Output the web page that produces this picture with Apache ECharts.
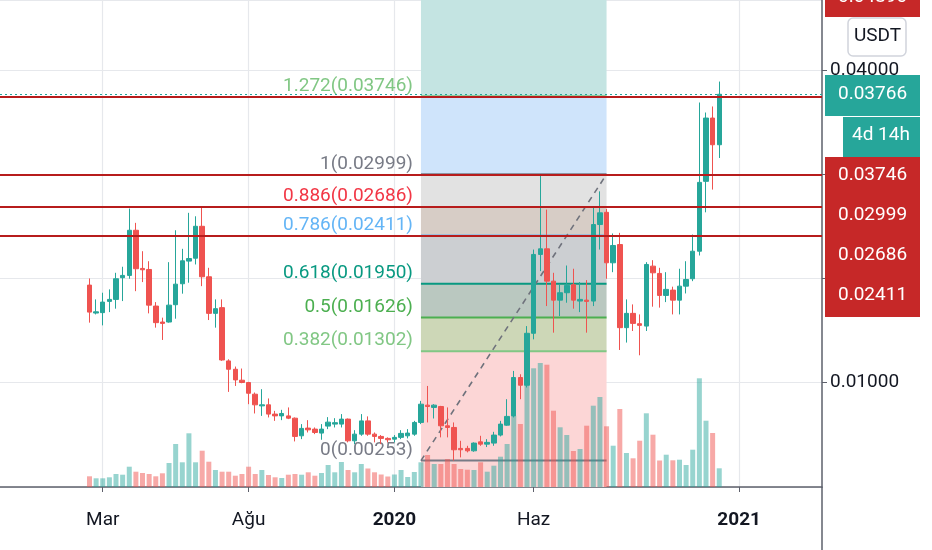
<!DOCTYPE html>
<html><head><meta charset="utf-8">
<script src="https://cdn.jsdelivr.net/npm/echarts@6/dist/echarts.min.js"></script>
<style>html,body{margin:0;padding:0;background:#fff}#c{width:932px;height:550px}</style>
</head><body><div id="c"></div>
<script>
// ---- data ----
const axisStartDate = '2018-11-19';   // first (empty) weekly slot on the time axis
const axisWeeks = 124;                 // number of weekly slots shown
const firstCandleDate = '2019-02-18';
// weekly candles [open, close, low, high]
const ohlc = [
[0.01936,0.01677,0.01576,0.02000],[0.01668,0.01680,0.01655,0.01799],[0.01672,0.01773,0.01550,0.01863],
[0.01780,0.01799,0.01677,0.01895],[0.01799,0.01997,0.01710,0.02054],[0.02007,0.02029,0.01783,0.02112],
[0.02029,0.02462,0.01997,0.02670],[0.02462,0.02093,0.01878,0.02533],[0.02096,0.02083,0.01965,0.02261],
[0.02086,0.01744,0.01665,0.02165],[0.01735,0.01576,0.01528,0.01773],[0.01582,0.01569,0.01410,0.01624],
[0.01582,0.01744,0.01576,0.02156],[0.01748,0.01945,0.01614,0.02462],[0.01949,0.02169,0.01854,0.02284],
[0.02166,0.02191,0.01959,0.02629],[0.02194,0.02500,0.02134,0.02596],[0.02500,0.02016,0.01926,0.02692],
[0.02016,0.01665,0.01601,0.02102],[0.01665,0.01710,0.01528,0.01799],[0.01720,0.01218,0.01210,0.01799],
[0.01209,0.01129,0.00912,0.01225],[0.01129,0.01027,0.00969,0.01155],[0.01024,0.01002,0.00995,0.01136],
[0.01002,0.00899,0.00794,0.01008],[0.00890,0.00788,0.00705,0.00906],[0.00778,0.00788,0.00682,0.00938],
[0.00788,0.00699,0.00667,0.00849],[0.00699,0.00682,0.00634,0.00730],[0.00682,0.00705,0.00641,0.00740],
[0.00682,0.00660,0.00651,0.00763],[0.00660,0.00485,0.00437,0.00667],[0.00491,0.00562,0.00459,0.00603],
[0.00565,0.00548,0.00523,0.00641],[0.00555,0.00523,0.00507,0.00571],[0.00517,0.00555,0.00453,0.00603],
[0.00584,0.00622,0.00555,0.00670],[0.00603,0.00617,0.00571,0.00660],[0.00603,0.00651,0.00571,0.00699],
[0.00651,0.00443,0.00428,0.00657],[0.00443,0.00507,0.00411,0.00545],[0.00507,0.00634,0.00491,0.00699],
[0.00634,0.00507,0.00491,0.00677],[0.00507,0.00485,0.00428,0.00523],[0.00485,0.00466,0.00411,0.00498],
[0.00466,0.00453,0.00428,0.00476],[0.00459,0.00476,0.00428,0.00498],[0.00476,0.00514,0.00459,0.00545],
[0.00491,0.00517,0.00466,0.00555],[0.00507,0.00619,0.00491,0.00634],[0.00619,0.00794,0.00603,0.00826],
[0.00785,0.00772,0.00619,0.00969],[0.00763,0.00785,0.00657,0.00794],[0.00772,0.00587,0.00476,0.00778],
[0.00587,0.00571,0.00476,0.00763],[0.00571,0.00357,0.00253,0.00619],[0.00370,0.00357,0.00284,0.00443],
[0.00370,0.00347,0.00332,0.00395],[0.00347,0.00421,0.00338,0.00428],[0.00433,0.00411,0.00395,0.00491],
[0.00411,0.00428,0.00383,0.00459],[0.00421,0.00498,0.00395,0.00529],[0.00498,0.00603,0.00485,0.00634],
[0.00593,0.00677,0.00587,0.00842],[0.00682,0.01050,0.00667,0.01113],[0.01050,0.00976,0.00842,0.01081],
[0.00976,0.01474,0.00954,0.01543],[0.01474,0.02230,0.01416,0.02277],[0.02230,0.02284,0.02070,0.02999],
[0.02284,0.01974,0.01735,0.02660],[0.01974,0.01792,0.01480,0.02054],[0.01792,0.01863,0.01639,0.01943],
[0.01863,0.01933,0.01767,0.02124],[0.01940,0.01792,0.01710,0.02093],[0.01783,0.01799,0.01677,0.01965],
[0.01792,0.01780,0.01480,0.01984],[0.01783,0.02517,0.01735,0.02676],[0.02517,0.02629,0.02277,0.02835],
[0.02634,0.02150,0.01997,0.02667],[0.02150,0.02316,0.02060,0.02431],[0.02325,0.01528,0.01314,0.02437],
[0.01528,0.01665,0.01385,0.01799],[0.01665,0.01569,0.01496,0.01751],[0.01566,0.01550,0.01263,0.01655],
[0.01543,0.02134,0.01496,0.02156],[0.02118,0.02054,0.01729,0.02175],[0.02048,0.01837,0.01720,0.02102],
[0.01837,0.01895,0.01773,0.02060],[0.01888,0.01792,0.01655,0.01921],[0.01792,0.01926,0.01655,0.02093],
[0.01926,0.01990,0.01856,0.02165],[0.01997,0.02261,0.01974,0.02421],[0.02261,0.02921,0.02220,0.03687],
[0.02931,0.03538,0.02634,0.03591],[0.03538,0.03282,0.02852,0.03649],[0.03282,0.03766,0.03155,0.03888]
];
// weekly volume (relative units)
const volumes = [
10.7,8.7,8.7,9.7,13,12.3,20.3,15.3,14,13,10.7,13.7,24,43,24.7,53.7,24.7,36.3,25.3,17,
15.3,15.3,11.3,13,20.3,13,17,12,9.7,9,12.3,13,12.3,14.7,11.3,14,22,14.7,25,17,
14.7,23,18.5,14.7,12.5,10.5,12.5,17,10,15,24.7,32,23,23,28,23,18,17.3,17,24.7,
15.3,21.3,30.3,43,71.3,63,108.7,118.7,124,122.3,76.3,59.7,52,36,38,61.3,81.3,90,60.7,41.3,
78,34,28.7,46.3,73.7,52.3,26.5,32.3,26.7,27.3,22,37.3,108.7,66.3,54,18.7
];
const tickLabels = [['2019-03-04','Mar',false],['2019-08-05','Ağu',false],['2020-01-06','2020',true],['2020-06-01','Haz',false],['2021-01-04','2021',true]];
const levelPrices = [0.03746, 0.02999, 0.02686, 0.02411];
const lastPrice = 0.03766;
const timeLeft = '4d 14h';
const topLabelPrice = 0.04890;
const fibStartDate = '2020-02-03', fibEndDate = '2020-08-17';
const fibRatios = [0, 0.382, 0.5, 0.618, 0.786, 0.886, 1, 1.272, 1.618];
const fibPrices = [0.00253, 0.01302, 0.01626, 0.01950, 0.02411, 0.02686, 0.02999, 0.03746, 0.04696];
const fibLineColors = ['#787b86','#81c784','#4caf50','#089981','#64b5f6','#f23645','#787b86','#81c784',null];
const fibBandColors = ['#fcd6d6','#cdd7b7','#bac8c0','#cccfd2','#d7cdc6','#e2e2e2','#cfe4fb','#c4e4e2'];
const fibBelowColor = '#fcd6d6';

// ---- build ----
const categories = [];
{
  const t0 = Date.parse(axisStartDate + 'T00:00:00Z');
  for (let k = 0; k < axisWeeks; k++) categories.push(new Date(t0 + k * 7 * 86400000).toISOString().slice(0, 10));
}
const first = categories.indexOf(firstCandleDate);
const labelMap = {}; tickLabels.forEach(t => labelMap[t[0]] = t);
const isTick = (i, v) => !!labelMap[categories[i]];
const candleData = ohlc.map((d, i) => [first + i, d[0], d[1], d[2], d[3]]);
const volData = volumes.map((v, i) => ({
  value: [first + i, v],
  itemStyle: { color: ohlc[i][1] >= ohlc[i][0] ? 'rgba(38,166,154,0.48)' : 'rgba(239,83,80,0.5)' }
}));
const fibS = categories.indexOf(fibStartDate), fibE = categories.indexOf(fibEndDate);
const FONT = '19px Roboto';

const chart = echarts.init(document.getElementById('c'), null, { renderer: 'canvas' });
const redBoxTexts = levelPrices.map((p, k) => ({
  type: 'text', z: 101, left: 838, top: 166 + k * 40,
  style: { text: p.toFixed(5), fill: '#fff', font: FONT }
}));
chart.setOption({
  animation: false,
  textStyle: { fontFamily: 'Roboto' },
  grid: { left: -1, right: 110, top: 0, bottom: 63 },
  xAxis: {
    type: 'category', data: categories, boundaryGap: true,
    axisLine: { show: true, onZero: false, lineStyle: { color: '#5d606b', width: 1.5 } },
    axisTick: { show: true, interval: isTick, alignWithLabel: true, length: 5, lineStyle: { color: '#5d606b' } },
    splitLine: { show: true, interval: isTick, alignWithLabel: true, lineStyle: { color: '#e6e8ec', width: 1.2 } },
    axisLabel: {
      interval: isTick, margin: 24, fontSize: 19, color: '#131722', fontFamily: 'Roboto',
      formatter: v => { const t = labelMap[v]; if (!t) return ''; return t[2] ? '{b|' + t[1] + '}' : t[1]; },
      rich: { b: { fontWeight: 'bold', fontSize: 19, color: '#131722', fontFamily: 'Roboto' } }
    }
  },
  yAxis: [{
    type: 'value', position: 'right', min: 0, max: 0.0467, interval: 0.01,
    axisLine: { show: true, lineStyle: { color: '#5d606b', width: 1.5 } },
    axisTick: { show: true, length: 5, lineStyle: { color: '#5d606b' } },
    splitLine: { show: true, lineStyle: { color: '#e6e8ec', width: 1.2 } },
    axisLabel: { formatter: v => v.toFixed(5), fontSize: 19, color: '#131722', margin: 8, showMinLabel: false, showMaxLabel: false, fontFamily: 'Roboto' }
  }, {
    type: 'value', min: 0, max: 487, show: false
  }],
  series: [{
    type: 'custom', z: 1, silent: true,
    data: [[fibS, fibPrices[0]]],
    renderItem: function (params, api) {
      const cs = params.coordSys, top = cs.y, bottom = cs.y + cs.height;
      const x0 = api.coord([fibS, 0])[0], x1 = api.coord([fibE, 0])[0];
      const Y = p => Math.max(top, Math.min(bottom, api.coord([fibS, p])[1]));
      const ch = [];
      const y0 = Y(fibPrices[0]);
      ch.push({ type: 'rect', shape: { x: x0, y: y0, width: x1 - x0, height: bottom - y0 }, style: { fill: fibBelowColor } });
      for (let k = 0; k < fibPrices.length - 1; k++) {
        const ya = Y(fibPrices[k + 1]), yb = Y(fibPrices[k]);
        ch.push({ type: 'rect', shape: { x: x0, y: ya, width: x1 - x0, height: yb - ya }, style: { fill: fibBandColors[k] } });
      }
      for (let k = 0; k < fibPrices.length; k++) {
        if (!fibLineColors[k]) continue;
        const ly = api.coord([fibS, fibPrices[k]])[1];
        ch.push({ type: 'line', shape: { x1: x0, y1: ly, x2: x1, y2: ly }, style: { stroke: fibLineColors[k], lineWidth: 2 } });
        ch.push({ type: 'text', x: x0 - 8, y: ly - 1,
          style: { text: String(fibRatios[k]) + '(' + fibPrices[k].toFixed(5) + ')', fill: fibLineColors[k], font: FONT,
                   textAlign: 'right', textVerticalAlign: 'bottom', align: 'right', verticalAlign: 'bottom' } });
      }
      const ia = fibRatios.indexOf(0), ib = fibRatios.indexOf(1);
      const pa = api.coord([fibS, fibPrices[ia]]), pb = api.coord([fibE, fibPrices[ib]]);
      ch.push({ type: 'line', shape: { x1: pa[0], y1: pa[1], x2: pb[0], y2: pb[1] }, style: { stroke: '#6f727c', lineWidth: 1.6, lineDash: [6, 5] } });
      return { type: 'group', children: ch };
    }
  }, {
    type: 'bar', yAxisIndex: 1, barWidth: 5, z: 2, data: volData, silent: true
  }, {
    type: 'candlestick', z: 3, barWidth: 5, data: candleData,
    encode: { x: 0, y: [1, 2, 3, 4] },
    itemStyle: { color: '#26a69a', color0: '#ef5350', borderColor: '#26a69a', borderColor0: '#ef5350', borderWidth: 1 },
    markLine: {
      silent: true, symbol: ['none', 'none'], animation: false, precision: 6,
      label: { show: false },
      data: levelPrices.map(p => ({ yAxis: p, lineStyle: { color: '#b71c1c', width: 2, type: 'solid' } }))
        .concat([{ yAxis: lastPrice, lineStyle: { color: '#26a69a', width: 1.2, type: [2, 3] } }])
    }
  }],
  graphic: [
    { type: 'line', z: 100, shape: { x1: 822, y1: 487, x2: 822, y2: 550 }, style: { stroke: '#5d606b', lineWidth: 1.5 } },
    { type: 'rect', z: 100, shape: { x: 825, y: -25, width: 95, height: 42 }, style: { fill: '#c62828' } },
    { type: 'text', z: 101, left: 838, top: -12, style: { text: topLabelPrice.toFixed(5), fill: '#fff', font: FONT } },
    { type: 'rect', z: 100, shape: { x: 848, y: 18, width: 58, height: 38, r: 5 }, style: { fill: '#fff', stroke: '#d1d4dc', lineWidth: 1.5 } },
    { type: 'text', z: 101, left: 854, top: 27, style: { text: 'USDT', fill: '#131722', font: FONT } },
    { type: 'rect', z: 100, shape: { x: 825, y: 75, width: 95, height: 41 }, style: { fill: '#26a69a' } },
    { type: 'text', z: 101, left: 838, top: 85, style: { text: lastPrice.toFixed(5), fill: '#fff', font: FONT } },
    { type: 'rect', z: 100, shape: { x: 843, y: 117, width: 77, height: 40 }, style: { fill: '#26a69a' } },
    { type: 'text', z: 101, left: 852, top: 126, style: { text: timeLeft, fill: '#fff', font: FONT } },
    { type: 'rect', z: 100, shape: { x: 825, y: 157, width: 95, height: 160 }, style: { fill: '#c62828' } }
  ].concat(redBoxTexts)
});
</script></body></html>
